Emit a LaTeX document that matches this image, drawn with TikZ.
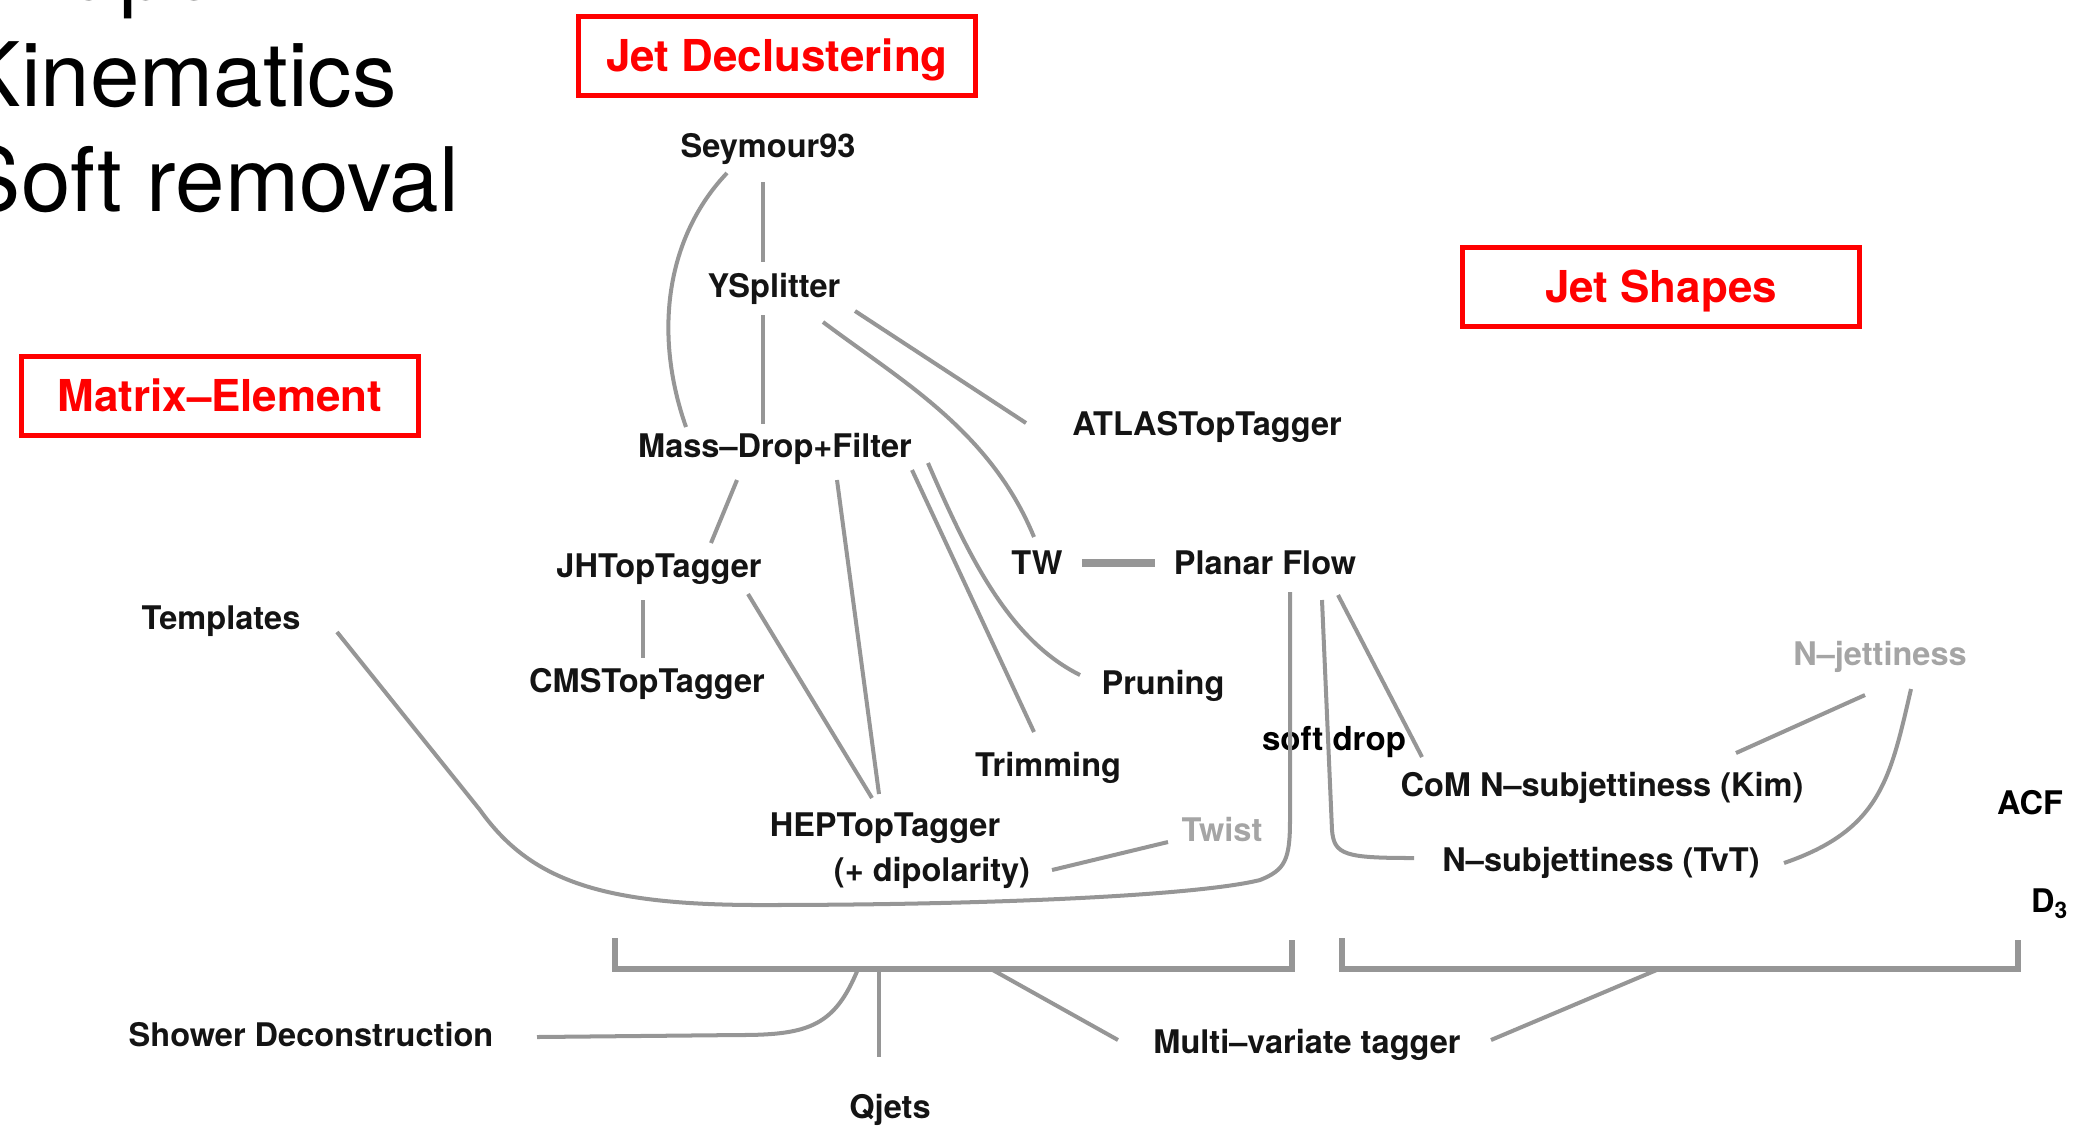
\documentclass[tikz,border=0pt]{standalone}
\usepackage{fontspec}
\setmainfont{TeX Gyre Heros}
\usetikzlibrary{calc}
\definecolor{linegray}{RGB}{150,150,150}
\definecolor{lightlbl}{RGB}{165,165,165}
\definecolor{boxred}{RGB}{255,0,0}
\definecolor{lblblack}{RGB}{20,20,20}
\tikzset{
  lbl/.style={inner sep=0pt, text=lblblack, font=\fontsize{9.25pt}{11pt}\selectfont\bfseries},
  glbl/.style={lbl, text=lightlbl},
  redbox/.style={draw=boxred, line width=1.42pt, minimum width=3.97cm, minimum height=0.78cm, inner sep=0pt,
    text height=8.6pt, text depth=0pt,
    text=boxred, font=\fontsize{12.5pt}{14pt}\selectfont\bfseries},
  bigtxt/.style={inner sep=0pt, anchor=base west, font=\fontsize{25.3pt}{30pt}\selectfont},
  conn/.style={draw=linegray, line width=1.14pt},
  thickconn/.style={draw=linegray, line width=2.2pt},
  bracketline/.style={draw=linegray, line width=1.7pt}
}
\begin{document}
\begin{tikzpicture}[x=0.01cm, y=-0.01cm]
\useasboundingbox (0,0) rectangle (2078,1126);
% left text
\node[bigtxt] (tshape) at (-39,-1) {Shape};
\node[bigtxt] (tkin) at (-39,106) {Kinematics};
\node[bigtxt] (tsoft) at (-39,211) {Soft removal};
% red boxes
\node[redbox] (bdecl) at (777,56) {Jet Declustering};
\node[redbox] (bshape) at (1661,287) {Jet Shapes};
\node[redbox] (bme) at (220,396) {Matrix–Element};
% labels
\node[lbl] (sey) at (768,149) {Seymour93};
\node[lbl] (ysp) at (774,289) {YSplitter};
\node[lbl] (atl) at (1207,427) {ATLASTopTagger};
\node[lbl] (mdf) at (775,449) {Mass–Drop+Filter};
\node[lbl] (jht) at (659,569) {JHTopTagger};
\node[lbl] (tw) at (1037,563) {TW};
\node[lbl] (pf) at (1265,563) {Planar Flow};
\node[lbl] (tpl) at (221,621) {Templates};
\node[lbl] (cms) at (647,684) {CMSTopTagger};
\node[lbl] (prn) at (1163,686) {Pruning};
\node[glbl] (njet) at (1880,657) {N–jettiness};
\node[lbl, text=black, font=\fontsize{9.4pt}{11pt}\selectfont\bfseries] (sd) at (1334,742) {soft drop};
\node[lbl] (trm) at (1048,768) {Trimming};
\node[lbl] (com) at (1602,788) {CoM N–subjettiness (Kim)};
\node[lbl, text=black] (acf) at (2030,803) {ACF};
\node[lbl] (hep) at (885,828) {HEPTopTagger};
\node[lbl] (dip) at (932,873) {(+ dipolarity)};
\node[glbl] (twi) at (1222,830) {Twist};
\node[lbl] (tvt) at (1601,863) {N–subjettiness (TvT)};
\node[lbl, text=black] (dthree) at (2050,904) {D\textsubscript{3}};
\node[lbl] (shw) at (311,1035) {Shower Deconstruction};
\node[lbl] (mvt) at (1307,1045) {Multi–variate tagger};
\node[lbl] (qj) at (890,1110) {Qjets};
% bracket coordinates
\coordinate (lbA) at (615,938);
\coordinate (lbB) at (1292,940);
\coordinate (rbA) at (1342,938);
\coordinate (rbB) at (2018,940);
\coordinate (lbS) at (858,969);
\coordinate (lbQ) at (879,969);
\coordinate (lbM) at (991,969);
\coordinate (rbM) at (1659,969);
% brackets
\draw[bracketline] (lbA) |- (lbB |- lbS) -- (lbB);
\draw[bracketline] (rbA) |- (rbB |- rbM) -- (rbB);
% connectors
\draw[conn] ($(sey)+(-5,33)$) -- ($(ysp)+(-11,-27)$);
\draw[conn] ($(sey)+(-41,24)$) .. controls (668,235) and (652,330) .. ($(mdf)+(-89,-22)$);
\draw[conn] ($(ysp)+(-11,26)$) -- ($(mdf)+(-12,-25)$);
\draw[conn] ($(ysp)+(81,22)$) -- ($(atl)+(-181,-4)$);
\draw[conn] ($(ysp)+(49,33)$) .. controls (900,380) and (990,430) .. ($(tw)+(-3,-26)$);
\draw[conn] ($(mdf)+(-38,31)$) -- ($(jht)+(52,-26)$);
\draw[conn] ($(mdf)+(62,31)$) -- ($(hep)+(-6,-34)$);
\draw[conn] ($(mdf)+(137,21)$) -- ($(trm)+(-14,-36)$);
\draw[conn] ($(mdf)+(153,14)$) .. controls (970,560) and (1010,640) .. ($(prn)+(-83,-11)$);
\draw[conn] ($(jht)+(-16,31)$) -- ($(cms)+(-4,-26)$);
\draw[conn] ($(jht)+(89,25)$) -- ($(hep)+(-13,-30)$);
\draw[thickconn] ($(tw)+(45,0)$) -- ($(pf)+(-110,0)$);
\draw[conn] ($(tpl)+(116,11)$) -- (480,810) .. controls (530,880) and (600,905) .. (760,905)
   .. controls (1000,905) and (1200,895) .. (1260,880) .. controls (1285,870) and (1290,860) .. (1290,820)
   -- ($(pf)+(25,29)$);
\draw[conn] ($(pf)+(57,37)$) -- (1332,830) .. controls (1334,855) and (1345,858) .. ($(tvt)+(-187,-5)$);
\draw[conn] ($(pf)+(73,32)$) -- ($(com)+(-180,-31)$);
\draw[conn] ($(njet)+(-15,38)$) -- ($(com)+(134,-35)$);
\draw[conn] ($(njet)+(31,32)$) .. controls (1890,780) and (1880,830) .. ($(tvt)+(183,0)$);
\draw[conn] ($(dip)+(120,-3)$) -- ($(twi)+(-54,12)$);
\draw[conn] (lbS) .. controls (835,1025) and (810,1035) .. (740,1035) -- ($(shw)+(226,2)$);
\draw[conn] (lbQ) -- ($(qj)+(-11,-53)$);
\draw[conn] (lbM) -- ($(mvt)+(-189,-5)$);
\draw[conn] (rbM) -- ($(mvt)+(184,-5)$);
\end{tikzpicture}
\end{document}
